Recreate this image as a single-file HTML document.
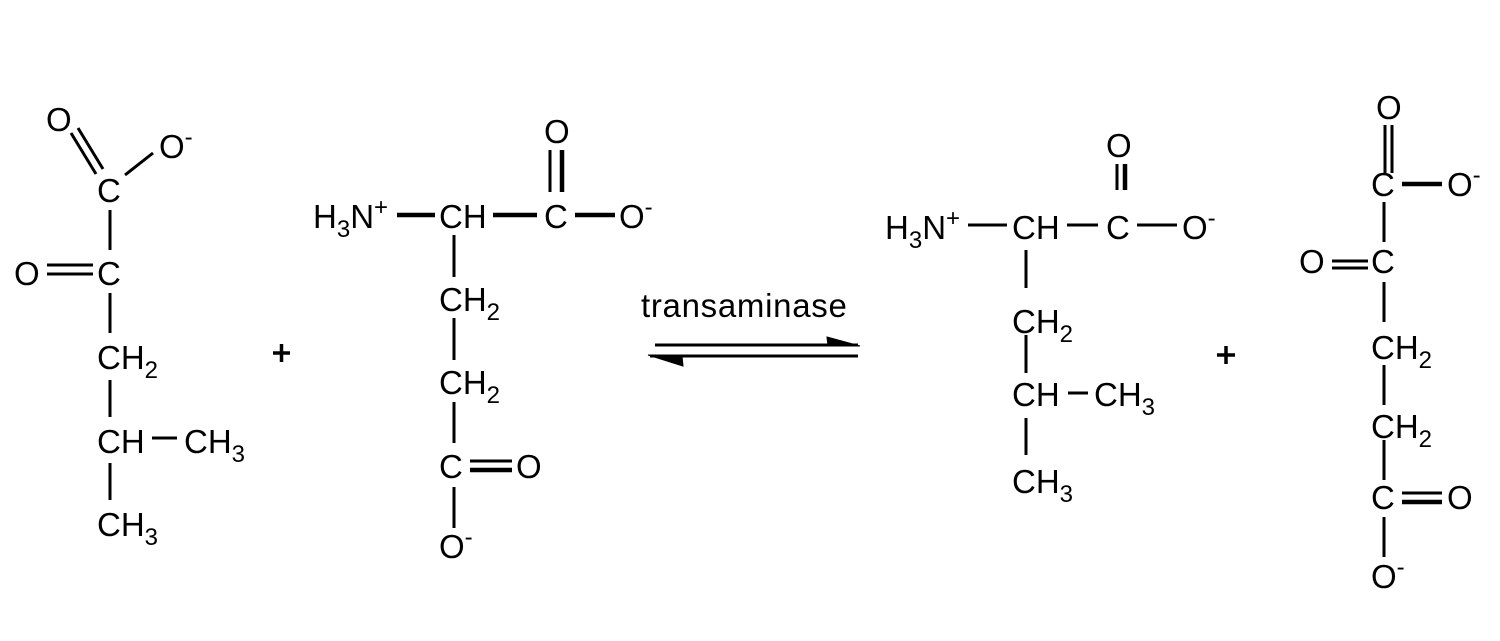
<!DOCTYPE html>
<html><head><meta charset="utf-8"><style>
html,body{margin:0;padding:0;background:#fff;}
svg{display:block;}
text{font-family:"Liberation Sans",Arial,sans-serif;font-size:33px;fill:#000;}
.s{font-size:24px;}
</style></head><body>
<svg width="1500" height="641" viewBox="0 0 1500 641" xmlns="http://www.w3.org/2000/svg">
<g stroke="#000" stroke-width="3" fill="none">
<!-- molecule 1 -->
<line x1="71" y1="133" x2="96" y2="174"/>
<line x1="78" y1="128" x2="103" y2="169"/>
<line x1="125" y1="175" x2="153" y2="153"/>
<line x1="110" y1="210" x2="110" y2="250"/>
<line x1="47" y1="265" x2="93" y2="265"/>
<line x1="47" y1="274" x2="93" y2="274"/>
<line x1="110" y1="293" x2="110" y2="333"/>
<line x1="110" y1="380" x2="110" y2="417"/>
<line x1="152" y1="438" x2="177" y2="438"/>
<line x1="110" y1="463" x2="110" y2="500"/>
<!-- molecule 2 -->
<line x1="397" y1="215" x2="435" y2="215" stroke-width="4.5"/>
<line x1="493" y1="215" x2="537" y2="215" stroke-width="4.5"/>
<line x1="575" y1="215" x2="615" y2="215" stroke-width="4.5"/>
<line x1="550" y1="150" x2="550" y2="192"/>
<line x1="562" y1="150" x2="562" y2="192" stroke-width="4.5"/>
<line x1="454" y1="235" x2="454" y2="277"/>
<line x1="454" y1="318" x2="454" y2="360"/>
<line x1="454" y1="402" x2="454" y2="443"/>
<line x1="470" y1="461" x2="512" y2="461"/>
<line x1="470" y1="470" x2="512" y2="470" stroke-width="4.5"/>
<line x1="454" y1="487" x2="454" y2="528"/>
<!-- arrows -->
<line x1="655" y1="345" x2="858" y2="345"/>
<path d="M827 337 L860 346 L828 346 Z" fill="#000" stroke-width="1"/>
<line x1="650" y1="356" x2="858" y2="356"/>
<path d="M648 355 L683 366 L682 356 Z" fill="#000" stroke-width="1"/>
<!-- molecule 3 -->
<line x1="968" y1="225" x2="1007" y2="225"/>
<line x1="1067" y1="225" x2="1098" y2="225"/>
<line x1="1137" y1="225" x2="1177" y2="225"/>
<line x1="1117" y1="164" x2="1117" y2="190"/>
<line x1="1125" y1="164" x2="1125" y2="190" stroke-width="4.5"/>
<line x1="1026" y1="250" x2="1026" y2="288"/>
<line x1="1026" y1="335" x2="1026" y2="373"/>
<line x1="1068" y1="393" x2="1088" y2="393"/>
<line x1="1026" y1="418" x2="1026" y2="455"/>
<!-- molecule 4 -->
<line x1="1385" y1="125" x2="1385" y2="173"/>
<line x1="1392" y1="125" x2="1392" y2="173"/>
<line x1="1402" y1="184" x2="1442" y2="184" stroke-width="4.5"/>
<line x1="1384" y1="202" x2="1384" y2="242"/>
<line x1="1332" y1="261" x2="1368" y2="261"/>
<line x1="1332" y1="268" x2="1368" y2="268"/>
<line x1="1384" y1="282" x2="1384" y2="322"/>
<line x1="1384" y1="365" x2="1384" y2="405"/>
<line x1="1384" y1="440" x2="1384" y2="480"/>
<line x1="1402" y1="493" x2="1442" y2="493"/>
<line x1="1402" y1="502" x2="1442" y2="502" stroke-width="4.5"/>
<line x1="1384" y1="517" x2="1384" y2="557"/>
</g>
<g stroke="#000" stroke-width="3.5">
<line x1="273" y1="353" x2="290" y2="353"/><line x1="281.5" y1="344" x2="281.5" y2="362"/>
<line x1="1217" y1="355" x2="1235" y2="355"/><line x1="1226" y1="346" x2="1226" y2="364"/>
</g>
<!-- molecule 1 text -->
<text x="46" y="131">O</text>
<text x="159" y="158">O<tspan class="s" dy="-13">-</tspan></text>
<text x="97" y="202">C</text>
<text x="14" y="285">O</text>
<text x="97" y="285">C</text>
<text x="97" y="369">CH<tspan class="s" dy="9">2</tspan></text>
<text x="97" y="453">CH</text>
<text x="184" y="453">CH<tspan class="s" dy="9">3</tspan></text>
<text x="97" y="536">CH<tspan class="s" dy="9">3</tspan></text>
<!-- molecule 2 text -->
<text x="313" y="228">H<tspan class="s" dy="9">3</tspan><tspan dy="-9">N</tspan><tspan class="s" dy="-13">+</tspan></text>
<text x="439" y="228">CH</text>
<text x="544" y="228">C</text>
<text x="619" y="228">O<tspan class="s" dy="-13">-</tspan></text>
<text x="544" y="143">O</text>
<text x="439" y="311">CH<tspan class="s" dy="9">2</tspan></text>
<text x="439" y="394">CH<tspan class="s" dy="9">2</tspan></text>
<text x="439" y="478">C</text>
<text x="516" y="478">O</text>
<text x="439" y="558">O<tspan class="s" dy="-13">-</tspan></text>
<!-- arrow label -->
<text x="641" y="317" style="letter-spacing:0.7px">transaminase</text>
<!-- molecule 3 text -->
<text x="885" y="239">H<tspan class="s" dy="9">3</tspan><tspan dy="-9">N</tspan><tspan class="s" dy="-13">+</tspan></text>
<text x="1012" y="239">CH</text>
<text x="1106" y="239">C</text>
<text x="1182" y="239">O<tspan class="s" dy="-13">-</tspan></text>
<text x="1106" y="157">O</text>
<text x="1012" y="333">CH<tspan class="s" dy="9">2</tspan></text>
<text x="1012" y="406">CH</text>
<text x="1094" y="406">CH<tspan class="s" dy="9">3</tspan></text>
<text x="1012" y="493">CH<tspan class="s" dy="9">3</tspan></text>
<!-- molecule 4 text -->
<text x="1376" y="119">O</text>
<text x="1371" y="196">C</text>
<text x="1447" y="196">O<tspan class="s" dy="-13">-</tspan></text>
<text x="1299" y="273">O</text>
<text x="1371" y="273">C</text>
<text x="1371" y="359">CH<tspan class="s" dy="9">2</tspan></text>
<text x="1371" y="438">CH<tspan class="s" dy="9">2</tspan></text>
<text x="1371" y="509">C</text>
<text x="1447" y="509">O</text>
<text x="1371" y="588">O<tspan class="s" dy="-13">-</tspan></text>
</svg>
</body></html>
